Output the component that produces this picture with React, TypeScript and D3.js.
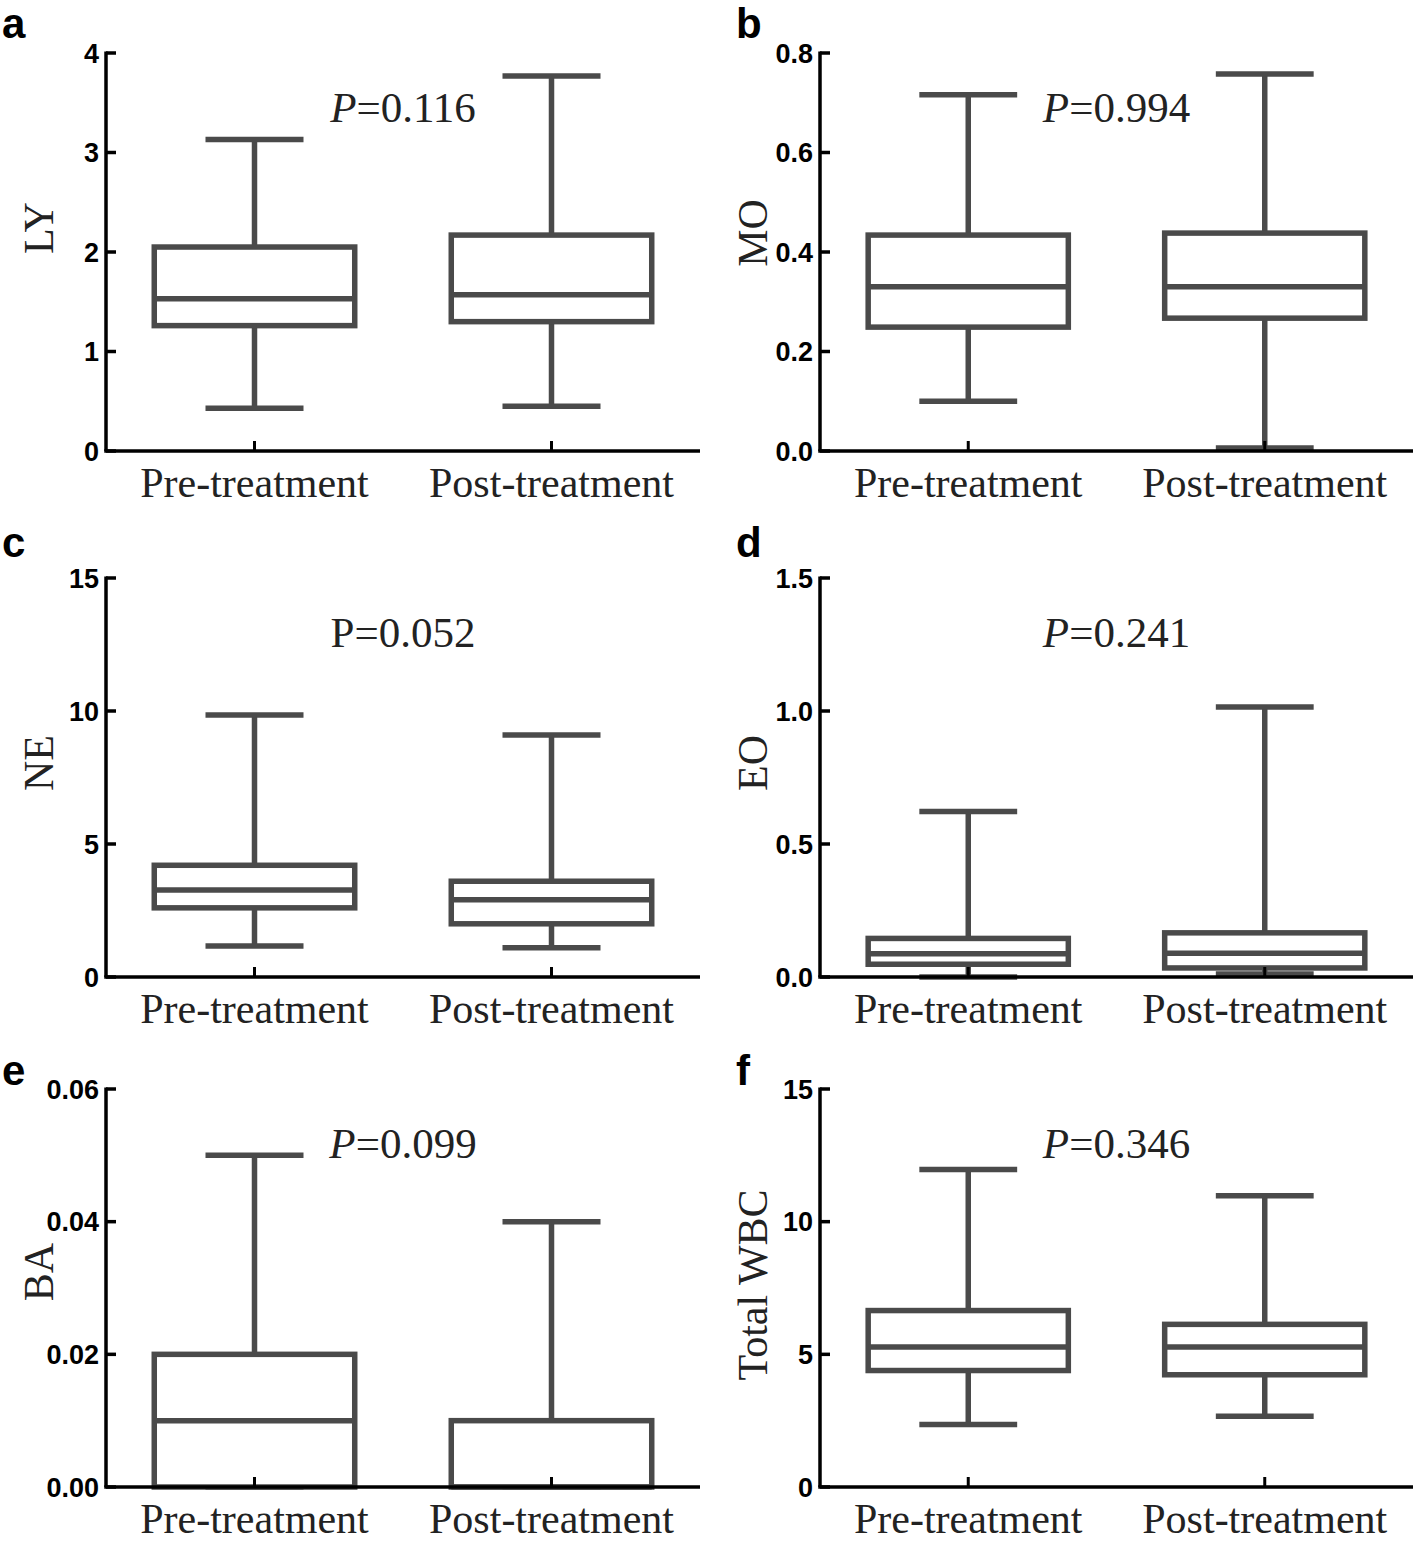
import React from "react";
import * as d3 from "d3";

// Categories on every panel
const categories = ["Pre-treatment", "Post-treatment"];

// Five-number summaries per category: [min, q1, median, q3, max]
const lyStats = [
  [0.43, 1.26, 1.53, 2.05, 3.13],
  [0.45, 1.3, 1.57, 2.17, 3.77],
];
const moStats = [
  [0.1, 0.249, 0.33, 0.434, 0.716],
  [0.006, 0.267, 0.33, 0.438, 0.758],
];
const neStats = [
  [1.17, 2.6, 3.27, 4.2, 9.85],
  [1.1, 2.0, 2.9, 3.6, 9.1],
];
const eoStats = [
  [0.0, 0.048, 0.087, 0.145, 0.622],
  [0.011, 0.034, 0.089, 0.166, 1.015],
];
const baStats = [
  [0, 0, 0.01, 0.02, 0.05],
  [0, 0, 0, 0.01, 0.04],
];
const wbcStats = [
  [2.36, 4.39, 5.28, 6.65, 11.97],
  [2.67, 4.23, 5.28, 6.13, 10.98],
];

// Axis ticks and their labels
const lyTicks = [0, 1, 2, 3, 4];
const lyTickLabels = ["0", "1", "2", "3", "4"];
const moTicks = [0, 0.2, 0.4, 0.6, 0.8];
const moTickLabels = ["0.0", "0.2", "0.4", "0.6", "0.8"];
const neTicks = [0, 5, 10, 15];
const neTickLabels = ["0", "5", "10", "15"];
const eoTicks = [0, 0.5, 1.0, 1.5];
const eoTickLabels = ["0.0", "0.5", "1.0", "1.5"];
const baTicks = [0, 0.02, 0.04, 0.06];
const baTickLabels = ["0.00", "0.02", "0.04", "0.06"];
const wbcTicks = [0, 5, 10, 15];
const wbcTickLabels = ["0", "5", "10", "15"];

// Titles, panel letters and P values
const panelLetters = ["a", "b", "c", "d", "e", "f"];
const yTitles = ["LY", "MO", "NE", "EO", "BA", "Total WBC"];
const pValues = ["0.116", "0.994", "0.052", "0.241", "0.099", "0.346"];
const pItalic = [true, true, false, true, true, true];

const statsList = [lyStats, moStats, neStats, eoStats, baStats, wbcStats];
const ticksList = [lyTicks, moTicks, neTicks, eoTicks, baTicks, wbcTicks];
const tickLabelsList = [lyTickLabels, moTickLabels, neTickLabels, eoTickLabels, baTickLabels, wbcTickLabels];

// Layout
const rowTop = [53, 578, 1089];
const rowBottom = [451, 977, 1487];
const colAxisX = [106, 820];
const colEndX = [700, 1413];
const letterX = [2, 736];
const letterBaseline = [38, 557, 1085];
const titleCenterY = [228, 233, 763, 763, 1272, 1285];

const BOX_COLOR = "#4a4a4a";
const SERIF = "'Liberation Serif', 'Times New Roman', serif";
const SANS = "'Liberation Sans', Arial, sans-serif";

function Panel({ idx }: { idx: number }) {
  const row = Math.floor(idx / 2);
  const col = idx % 2;
  const top = rowTop[row];
  const bottom = rowBottom[row];
  const x0 = colAxisX[col];
  const x1 = colEndX[col];
  const ticks = ticksList[idx];
  const tickLabels = tickLabelsList[idx];
  const stats = statsList[idx];

  const y = d3.scaleLinear().domain([0, ticks[ticks.length - 1]]).range([bottom, top]);
  const x = d3.scalePoint<string>().domain(categories).range([x0, x1]).padding(0.5);
  const step = x.step();
  const boxW = step * 0.675;
  const capW = step * 0.33;
  const sw = 5.5;

  const midX = ((x(categories[0]) as number) + (x(categories[1]) as number)) / 2;

  return (
    <g>
      {/* panel letter */}
      <text x={letterX[col]} y={letterBaseline[row]} fontFamily={SANS} fontWeight="bold" fontSize={42} fill="#000">
        {panelLetters[idx]}
      </text>

      {/* boxes */}
      {categories.map((c, i) => {
        const [mn, q1, med, q3, mx] = stats[i];
        const cx = x(c) as number;
        return (
          <g key={c} stroke={BOX_COLOR} strokeWidth={sw} fill="none">
            <line x1={cx} x2={cx} y1={y(mx)} y2={y(q3)} />
            <line x1={cx} x2={cx} y1={y(q1)} y2={y(mn)} />
            <line x1={cx - capW / 2} x2={cx + capW / 2} y1={y(mx)} y2={y(mx)} />
            <line x1={cx - capW / 2} x2={cx + capW / 2} y1={y(mn)} y2={y(mn)} />
            <rect x={cx - boxW / 2} y={y(q3)} width={boxW} height={y(q1) - y(q3)} fill="#fff" />
            <line x1={cx - boxW / 2} x2={cx + boxW / 2} y1={y(med)} y2={y(med)} />
          </g>
        );
      })}

      {/* y axis */}
      <line x1={x0} x2={x0} y1={top - 1.5} y2={bottom} stroke="#000" strokeWidth={3.5} />
      {ticks.map((t, i) => (
        <g key={"t" + i}>
          <line x1={x0} x2={x0 + 10} y1={y(t)} y2={y(t)} stroke="#000" strokeWidth={3.5} />
          <text
            x={x0 - 7}
            y={y(t)}
            dy="0.36em"
            textAnchor="end"
            fontFamily={SANS}
            fontWeight="bold"
            fontSize={27}
            fill="#000"
          >
            {tickLabels[i]}
          </text>
        </g>
      ))}

      {/* x axis */}
      <line x1={x0 - 1.75} x2={x1} y1={bottom} y2={bottom} stroke="#000" strokeWidth={3.5} />
      {categories.map((c) => (
        <g key={"x" + c}>
          <line x1={x(c)} x2={x(c)} y1={bottom} y2={bottom - 10} stroke="#000" strokeWidth={3} />
          <text x={x(c)} y={bottom + 46} textAnchor="middle" fontFamily={SERIF} fontSize={42} fill="#222">
            {c}
          </text>
        </g>
      ))}

      {/* y title */}
      <text
        transform={`translate(${x0 - 53},${titleCenterY[idx]}) rotate(-90)`}
        textAnchor="middle"
        fontFamily={SERIF}
        fontSize={42}
        fill="#222"
      >
        {yTitles[idx]}
      </text>

      {/* P value */}
      <text x={midX} y={top + 69} textAnchor="middle" fontFamily={SERIF} fontSize={43} fill="#222">
        <tspan fontStyle={pItalic[idx] ? "italic" : "normal"}>P</tspan>
        {"=" + pValues[idx]}
      </text>
    </g>
  );
}

export default function App() {
  return (
    <svg
      width={1418}
      height={1542}
      viewBox="0 0 1418 1542"
      style={{ position: "absolute", left: 0, top: 0, background: "#fff" }}
    >
      <rect width={1418} height={1542} fill="#fff" />
      {panelLetters.map((_, i) => (
        <Panel key={i} idx={i} />
      ))}
    </svg>
  );
}
